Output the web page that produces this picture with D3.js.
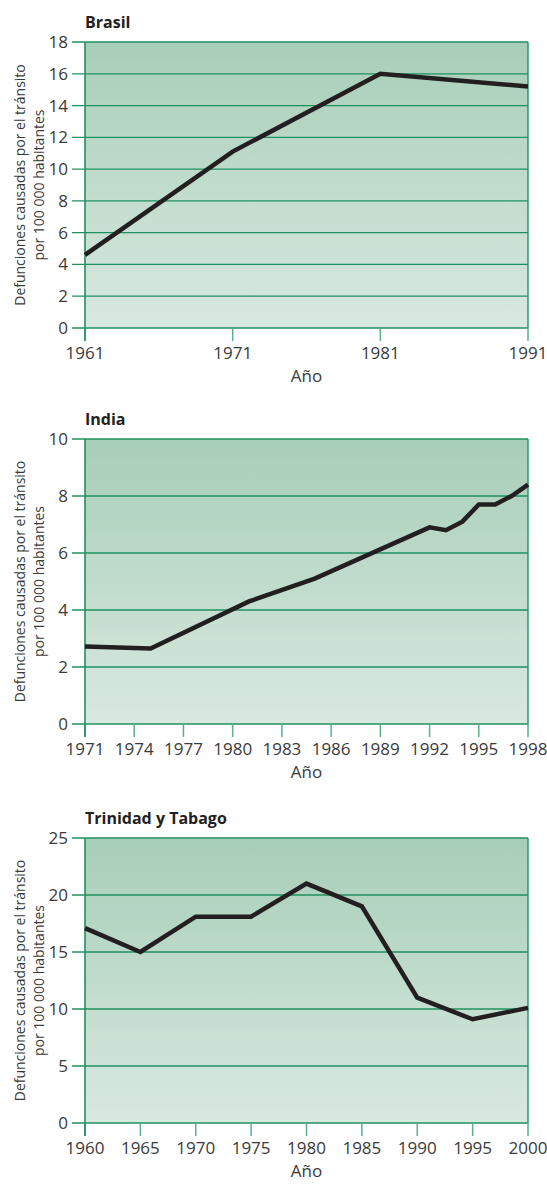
<!DOCTYPE html>
<html>
<head>
<meta charset="utf-8">
<script src="https://cdn.jsdelivr.net/npm/d3@7"></script>
<style>
  body { margin: 0; background: #fff; }
  svg { display: block; font-family: "Open Sans", "Noto Sans", sans-serif; }
  .tick-label { fill: #3a3a3a; font-size: 17px; }
  .axis-title { fill: #3a3a3a; font-size: 17px; }
  .y-title { fill: #3a3a3a; font-size: 14px; }
  .panel-title { fill: #231f20; font-size: 16px; font-weight: bold; }
</style>
</head>
<body>
<svg id="chart" width="547" height="1187"></svg>
<script>
// Brasil
const brasilYears = [1961, 1971, 1981, 1991];
const brasilValues = [4.6, 11.1, 16.0, 15.2];
const brasilXTicks = [1961, 1971, 1981, 1991];
const brasilYTicks = [0, 2, 4, 6, 8, 10, 12, 14, 16, 18];

// India
const indiaYears = [1971, 1975, 1981, 1985, 1992, 1993, 1994, 1995, 1996, 1997, 1998];
const indiaValues = [2.72, 2.65, 4.3, 5.1, 6.9, 6.8, 7.1, 7.7, 7.7, 8.0, 8.4];
const indiaXTicks = [1971, 1974, 1977, 1980, 1983, 1986, 1989, 1992, 1995, 1998];
const indiaYTicks = [0, 2, 4, 6, 8, 10];

// Trinidad y Tabago
const trinidadYears = [1960, 1965, 1970, 1975, 1980, 1985, 1990, 1995, 2000];
const trinidadValues = [17.1, 15.0, 18.1, 18.1, 21.0, 19.0, 11.0, 9.1, 10.1];
const trinidadXTicks = [1960, 1965, 1970, 1975, 1980, 1985, 1990, 1995, 2000];
const trinidadYTicks = [0, 5, 10, 15, 20, 25];

const yTitle1 = "Defunciones causadas por el tránsito";
const yTitle2 = "por 100 000 habitantes";
const xTitle = "Año";

const svg = d3.select("#chart");

// shared gradient for the plot backgrounds
const grad = svg.append("defs").append("linearGradient")
    .attr("id", "bg")
    .attr("x1", 0).attr("y1", 0).attr("x2", 0).attr("y2", 1);
grad.append("stop").attr("offset", "0%").attr("stop-color", "#a7ceb8");
grad.append("stop").attr("offset", "100%").attr("stop-color", "#d9e9e0");

const left = 85, right = 528;

function drawPanel(title, years, values, xTicks, yTicks, top, bottom) {
    const x = d3.scaleLinear()
        .domain([xTicks[0], xTicks[xTicks.length - 1]])
        .range([left, right]);
    const y = d3.scaleLinear()
        .domain([0, yTicks[yTicks.length - 1]])
        .range([bottom, top]);

    const g = svg.append("g");

    g.append("rect")
        .attr("x", left).attr("y", top)
        .attr("width", right - left).attr("height", bottom - top)
        .attr("fill", "url(#bg)");

    // grid lines + left ticks
    g.selectAll(".grid").data(yTicks).enter().append("line")
        .attr("x1", left - 13).attr("x2", right)
        .attr("y1", d => y(d)).attr("y2", d => y(d))
        .attr("stroke", "#1f9160").attr("stroke-width", 1.3);

    // x ticks
    g.selectAll(".xtick").data(xTicks).enter().append("line")
        .attr("x1", d => x(d)).attr("x2", d => x(d))
        .attr("y1", bottom).attr("y2", bottom + 13)
        .attr("stroke", "#5bb088").attr("stroke-width", 1.5);

    // borders
    g.append("line").attr("x1", left).attr("x2", left)
        .attr("y1", top).attr("y2", bottom + 13)
        .attr("stroke", "#1f9160").attr("stroke-width", 1.6);
    g.append("line").attr("x1", right).attr("x2", right)
        .attr("y1", top).attr("y2", bottom)
        .attr("stroke", "#1f9160").attr("stroke-width", 1.4);

    // y tick labels
    g.selectAll(".ylab").data(yTicks).enter().append("text")
        .attr("class", "tick-label")
        .attr("x", left - 17).attr("y", d => y(d) + 6)
        .attr("text-anchor", "end")
        .text(d => d);

    // x tick labels
    g.selectAll(".xlab").data(xTicks).enter().append("text")
        .attr("class", "tick-label")
        .attr("x", d => x(d)).attr("y", bottom + 31)
        .attr("text-anchor", "middle")
        .text(d => d);

    g.append("text").attr("class", "axis-title")
        .attr("x", (left + right) / 2).attr("y", bottom + 54)
        .attr("text-anchor", "middle")
        .text(xTitle);

    const cy = (top + bottom) / 2;
    g.append("text").attr("class", "y-title")
        .attr("transform", `translate(25,${cy}) rotate(-90)`)
        .attr("text-anchor", "middle")
        .text(yTitle1);
    g.append("text").attr("class", "y-title")
        .attr("transform", `translate(44,${cy}) rotate(-90)`)
        .attr("text-anchor", "middle")
        .text(yTitle2);

    g.append("text").attr("class", "panel-title")
        .attr("x", left).attr("y", top - 14)
        .text(title);

    const line = d3.line().x(d => x(d[0])).y(d => y(d[1]));
    g.append("path")
        .datum(d3.zip(years, values))
        .attr("d", line)
        .attr("fill", "none")
        .attr("stroke", "#231f20")
        .attr("stroke-width", 4.5)
        .attr("stroke-linejoin", "miter");
}

drawPanel("Brasil", brasilYears, brasilValues, brasilXTicks, brasilYTicks, 42, 328);
drawPanel("India", indiaYears, indiaValues, indiaXTicks, indiaYTicks, 439, 724);
drawPanel("Trinidad y Tabago", trinidadYears, trinidadValues, trinidadXTicks, trinidadYTicks, 838, 1123);
</script>
</body>
</html>
